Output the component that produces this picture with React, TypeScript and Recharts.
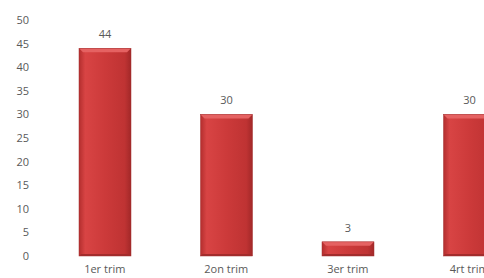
import { BarChart, Bar, XAxis, YAxis, LabelList } from "recharts";

const quarters = ["1er trim", "2on trim", "3er trim", "4rt trim"];
const counts = [44, 30, 3, 30];
const yTicks = [0, 5, 10, 15, 20, 25, 30, 35, 40, 45, 50];

const data = quarters.map((q, i) => ({ name: q, value: counts[i] }));

const textStyle = { fontFamily: "'Open Sans', sans-serif", fontSize: 11, fill: "#595959" };

// bevelled red bar, like the old office 3d look
function BevelBar(props: any) {
  const { x, y, width, height } = props;
  if (!height || height <= 0) return null;
  const b = Math.min(4, height / 2);
  const bb = Math.min(2, height / 3);
  return (
    <g>
      <rect x={x} y={y} width={width} height={height} fill="url(#barFill)" />
      <polygon
        points={`${x},${y} ${x + width},${y} ${x + width - b},${y + b} ${x + b},${y + b}`}
        fill="#E56262"
      />
      <polygon
        points={`${x},${y + height} ${x + width},${y + height} ${x + width - bb},${y + height - bb} ${x + bb},${y + height - bb}`}
        fill="#A32C2C"
      />
      <rect x={x} y={y} width={width} height={height} fill="none" stroke="#A33030" strokeWidth={0.5} />
    </g>
  );
}

export default function App() {
  return (
    <div style={{ position: "fixed", left: 0, top: 0, width: 484, height: 278, overflow: "hidden", background: "#fff" }}>
      <BarChart
        width={540}
        height={278}
        data={data}
        margin={{ top: 20, right: 10, bottom: 0, left: 0 }}
        barCategoryGap={35}
      >
        <defs>
          <linearGradient id="barFill" x1="0" y1="0" x2="1" y2="0">
            <stop offset="0%" stopColor="#B32E2E" />
            <stop offset="12%" stopColor="#D84444" />
            <stop offset="50%" stopColor="#CC3A3A" />
            <stop offset="88%" stopColor="#BF3333" />
            <stop offset="100%" stopColor="#A22828" />
          </linearGradient>
        </defs>
        <XAxis
          dataKey="name"
          axisLine={false}
          tickLine={false}
          tickSize={0}
          tickMargin={9}
          height={22}
          tick={textStyle}
          interval={0}
        />
        <YAxis
          domain={[0, 50]}
          ticks={yTicks}
          axisLine={false}
          tickLine={false}
          tickSize={0}
          tickMargin={15}
          width={44}
          tick={textStyle}
          interval={0}
        />
        <Bar dataKey="value" shape={BevelBar} isAnimationActive={false}>
          <LabelList dataKey="value" position="top" offset={10} style={textStyle} />
        </Bar>
      </BarChart>
    </div>
  );
}
